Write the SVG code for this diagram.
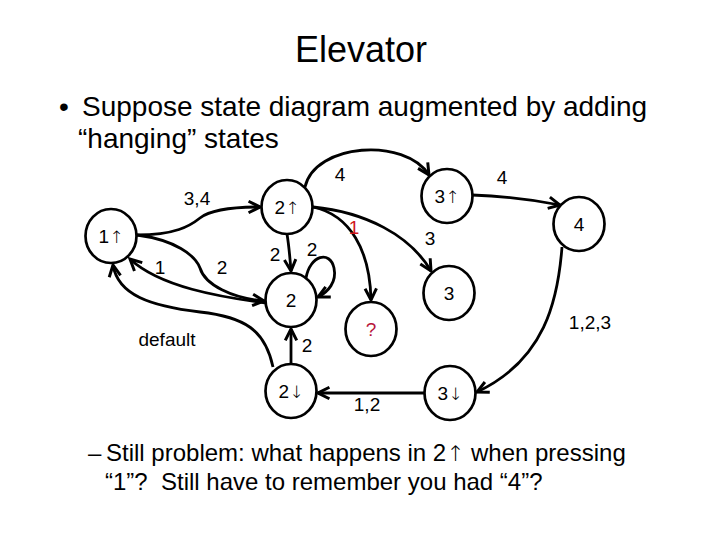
<svg xmlns="http://www.w3.org/2000/svg" width="720" height="540" viewBox="0 0 720 540">
<style>
  text { font-family: "Liberation Sans", Arial, sans-serif; fill: #000; }
  .ar { font-family: "DejaVu Sans", sans-serif; font-weight: 200; font-size: 0.9em; }
  .title { font-size: 36px; text-anchor: middle; }
  .body { font-size: 28px; }
  .sub { font-size: 24px; }
  .node ellipse { fill: #fff; stroke: #000; stroke-width: 2.7; }
  .node text { font-size: 19px; text-anchor: middle; }
  .edge { fill: none; stroke: #000; stroke-width: 2.8; marker-end: url(#arr); }
  .lbl { font-size: 19px; text-anchor: middle; }
</style>
<defs>
  <marker id="arr" markerUnits="userSpaceOnUse" markerWidth="16" markerHeight="16" refX="11" refY="6" orient="auto" viewBox="0 0 14 12">
    <path d="M1,1 L11,6 L1,11" fill="none" stroke="#000" stroke-width="2.6" stroke-linejoin="miter"/>
  </marker>
</defs>
<rect width="720" height="540" fill="#fff"/>
<text class="title" x="361" y="62">Elevator</text>
<text class="body" x="59" y="116">•</text>
<text class="body" x="82" y="116">Suppose state diagram augmented by adding</text>
<text class="body" x="78" y="148">“hanging” states</text>

<g id="connectors">
  <path class="edge" d="M137,235 C175,235 190,226 200,218 C210,210 232,207 260,207"/>
  <path class="edge" d="M137,235 C175,240 195,255 200,268 C205,285 232,298 264,301"/>
  <path class="edge" d="M266,303 C220,297 160,287 130,259"/>
  <path class="edge" d="M273,367 C265,330 245,317 200,312 C150,306 118,295 113,265"/>
  <path class="edge" d="M287,234 C289,246 290,258 291,271"/>
  <path class="edge" d="M306,278 C310,255 330,250 334,268 C337,282 328,292 318,297"/>
  <path class="edge" d="M313,207 C350,215 370,250 371,300"/>
  <path class="edge" d="M313,207 C365,212 410,235 431,271"/>
  <path class="edge" d="M305,187 C315,143 405,137 429,175"/>
  <path class="edge" d="M472,195 C500,196 530,199 560,205"/>
  <path class="edge" d="M562,247 C558,300 545,360 477,392"/>
  <path class="edge" d="M424,393 L318,393"/>
  <path class="edge" d="M291,364 L291,329"/>
  <text class="lbl" x="197" y="205">3,4</text>
  <text class="lbl" x="222" y="274">2</text>
  <text class="lbl" x="160" y="274">1</text>
  <text class="lbl" x="167" y="346">default</text>
  <text class="lbl" x="275" y="261">2</text>
  <text class="lbl" x="312" y="256">2</text>
  <text class="lbl" x="354" y="234" style="fill:#d0161c">1</text>
  <text class="lbl" x="430" y="245">3</text>
  <text class="lbl" x="340" y="181">4</text>
  <text class="lbl" x="502" y="184">4</text>
  <text class="lbl" x="590" y="329">1,2,3</text>
  <text class="lbl" x="367" y="411">1,2</text>
  <text class="lbl" x="307" y="352">2</text>
</g>

<g id="n1up" class="node"><ellipse cx="111" cy="236" rx="25.5" ry="27"/><text x="111" y="243">1<tspan class="ar">↑</tspan></text></g>
<g id="n2up" class="node"><ellipse cx="287" cy="207" rx="25.5" ry="27"/><text x="287" y="214">2<tspan class="ar">↑</tspan></text></g>
<g id="n3up" class="node"><ellipse cx="447" cy="196" rx="25.5" ry="27"/><text x="447" y="203">3<tspan class="ar">↑</tspan></text></g>
<g id="n4" class="node"><ellipse cx="579" cy="224" rx="25.5" ry="27"/><text x="579" y="231">4</text></g>
<g id="n3" class="node"><ellipse cx="449" cy="293" rx="25.5" ry="27"/><text x="449" y="300">3</text></g>
<g id="n2" class="node"><ellipse cx="291" cy="300" rx="25.5" ry="27"/><text x="291" y="307">2</text></g>
<g id="nq" class="node"><ellipse cx="371" cy="329" rx="25.5" ry="27"/><text x="371" y="336" style="fill:#b8163c">?</text></g>
<g id="n2dn" class="node"><ellipse cx="291" cy="391" rx="25.5" ry="27"/><text x="291" y="398">2<tspan class="ar">↓</tspan></text></g>
<g id="n3dn" class="node"><ellipse cx="450" cy="393" rx="25.5" ry="27"/><text x="450" y="400">3<tspan class="ar">↓</tspan></text></g>

<text class="sub" x="88" y="461">–</text>
<text class="sub" x="106" y="461">Still problem: what happens in 2<tspan class="ar">↑</tspan> when pressing</text>
<text class="sub" x="105" y="490" xml:space="preserve">“1”?  Still have to remember you had “4”?</text>
</svg>
